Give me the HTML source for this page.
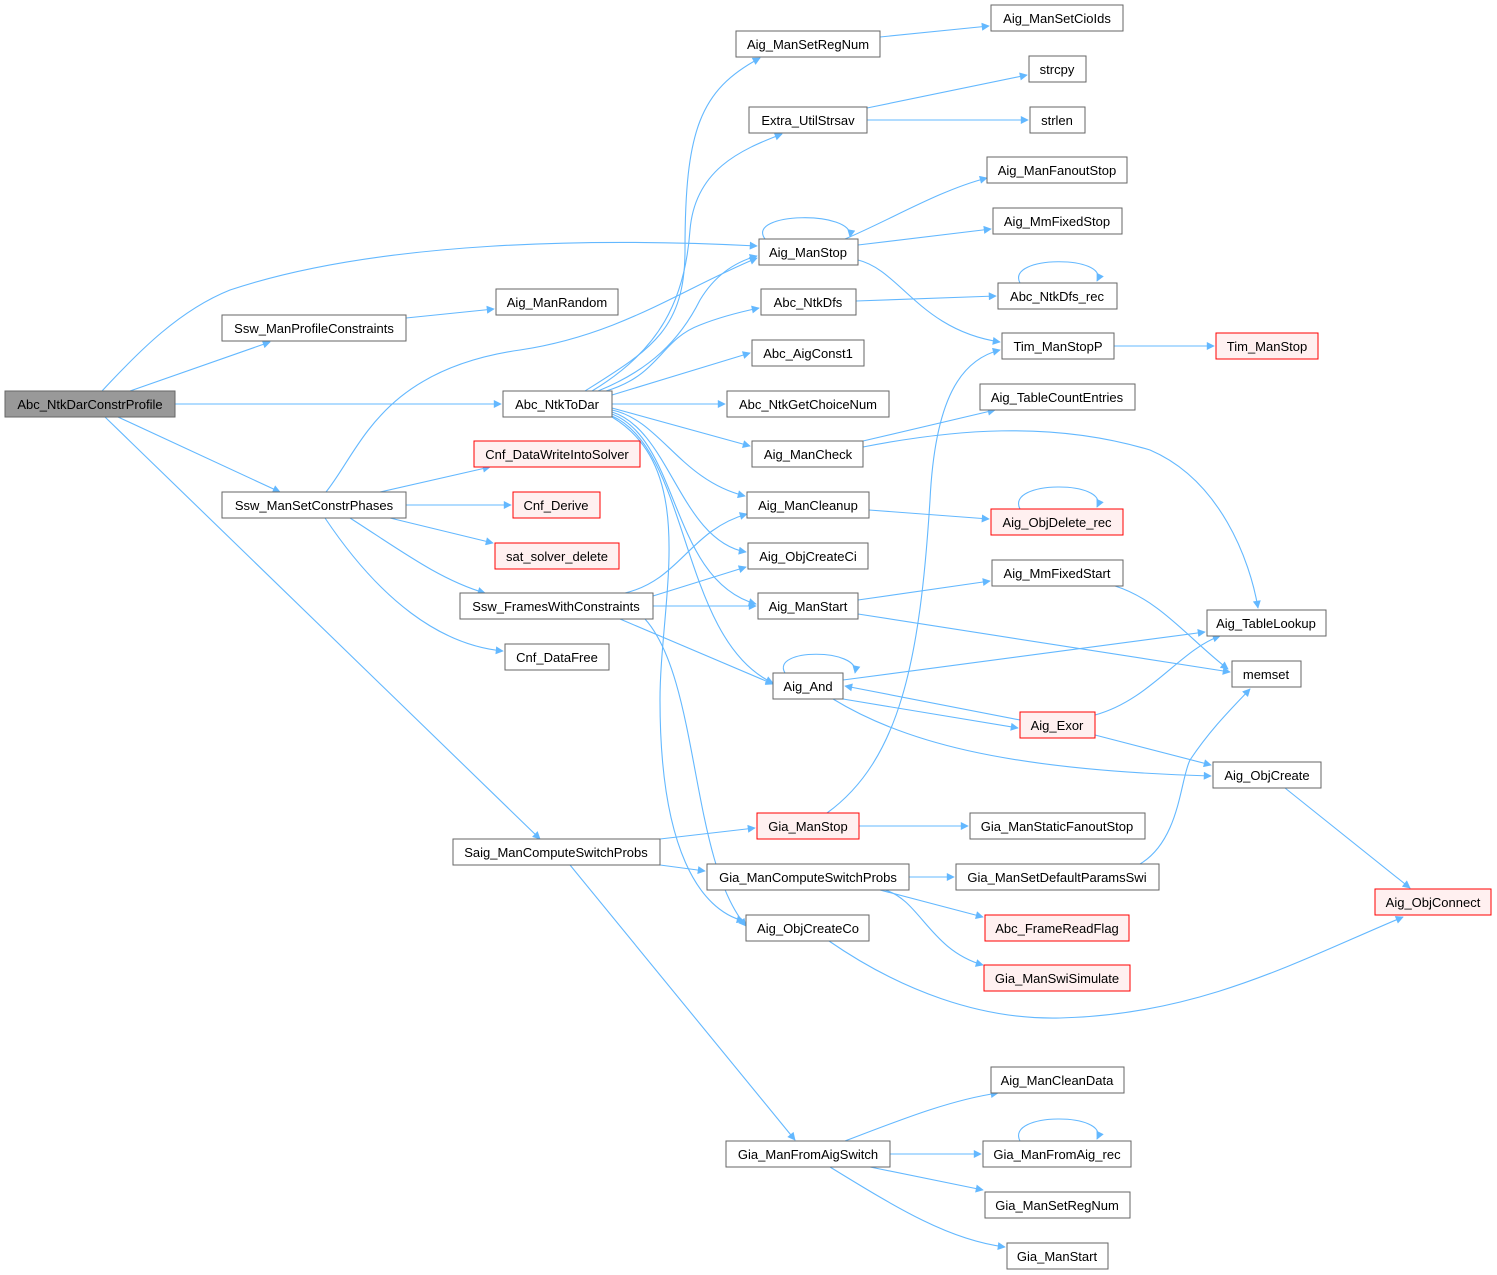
<!DOCTYPE html>
<html><head><meta charset="utf-8"><style>
html,body{margin:0;padding:0;background:#fff;}
svg{display:block;}
text{font-family:"Liberation Sans",Arial,sans-serif;font-size:13px;fill:#000;text-anchor:middle;}
.n{fill:#fff;stroke:#666;stroke-width:1;}
.r{fill:#fff0f0;stroke:#f00;stroke-width:1;}
.g{fill:#999;stroke:#666;stroke-width:1;}
path.e{fill:none;stroke:#63b8ff;stroke-width:1.1;marker-end:url(#a);}
</style></head><body>
<svg width="1497" height="1275" viewBox="0 0 1497 1275" xmlns="http://www.w3.org/2000/svg">
<defs><marker id="a" viewBox="0 0 10 10" refX="9" refY="5" markerWidth="10" markerHeight="8" orient="auto" markerUnits="userSpaceOnUse"><path d="M0,0 L10,5 L0,10 z" fill="#63b8ff"/></marker></defs>
<g>
<path class="e" d="M102,391 C140,350 180,310 230,290 C380,240 600,238 757,246"/>
<path class="e" d="M130,391 L270,342"/>
<path class="e" d="M175,404 L501,404"/>
<path class="e" d="M118,417 L280,492"/>
<path class="e" d="M105,417 L540,839"/>
<path class="e" d="M406,318 L494,309"/>
<path class="e" d="M326,492 C360,450 380,370 520,350 C620,335 680,290 757,258"/>
<path class="e" d="M380,492 L490,467"/>
<path class="e" d="M406,505 L511,505"/>
<path class="e" d="M390,518 L493,543"/>
<path class="e" d="M350,518 C400,550 440,580 485,593"/>
<path class="e" d="M325,518 C380,600 440,645 503,651"/>
<path class="e" d="M585,391 C650,350 685,330 685,250 C685,130 700,90 760,58"/>
<path class="e" d="M592,391 C660,350 685,300 690,230 C695,170 740,150 782,134"/>
<path class="e" d="M598,391 C650,370 680,340 700,300 C715,275 735,262 757,256"/>
<path class="e" d="M606,391 C660,375 660,340 700,325 C720,317 740,312 759,308"/>
<path class="e" d="M612,395 L750,353"/>
<path class="e" d="M612,404 L725,404"/>
<path class="e" d="M612,408 L750,446"/>
<path class="e" d="M612,410 C660,420 680,480 745,496"/>
<path class="e" d="M612,412 C670,430 680,540 746,552"/>
<path class="e" d="M612,414 C680,440 670,580 756,604"/>
<path class="e" d="M612,416 C690,450 680,640 773,683"/>
<path class="e" d="M612,417 C700,470 660,600 660,700 C660,850 700,910 744,921"/>
<path class="e" d="M660,839 L755,828"/>
<path class="e" d="M660,865 L705,871"/>
<path class="e" d="M570,865 L795,1140"/>
<path class="e" d="M625,593 C680,580 690,530 747,514"/>
<path class="e" d="M653,596 L746,567"/>
<path class="e" d="M653,606 L756,606"/>
<path class="e" d="M620,619 L773,684"/>
<path class="e" d="M645,619 C700,680 690,860 746,926"/>
<path class="e" d="M880,37 L989,26"/>
<path class="e" d="M867,108 L1027,75"/>
<path class="e" d="M867,120 L1028,120"/>
<path class="e" d="M765,239 C745,212 855,210 850,237"/>
<path class="e" d="M845,239 C890,220 940,190 987,178"/>
<path class="e" d="M858,245 L991,229"/>
<path class="e" d="M858,260 C900,270 920,330 1000,342"/>
<path class="e" d="M856,301 L996,296"/>
<path class="e" d="M1020,283 C1005,255 1110,255 1097,281"/>
<path class="e" d="M1114,346 L1214,346"/>
<path class="e" d="M863,441 L995,410"/>
<path class="e" d="M863,447 C950,430 1050,420 1150,450 C1220,480 1250,560 1258,608"/>
<path class="e" d="M869,510 L989,519"/>
<path class="e" d="M1020,509 C1005,480 1110,480 1097,507"/>
<path class="e" d="M858,600 L990,581"/>
<path class="e" d="M858,614 L1230,672"/>
<path class="e" d="M1115,586 C1160,600 1190,640 1228,669"/>
<path class="e" d="M785,673 C770,648 860,648 855,673"/>
<path class="e" d="M843,680 L1205,632"/>
<path class="e" d="M843,699 L1018,728"/>
<path class="e" d="M833,699 C900,740 1000,770 1211,776"/>
<path class="e" d="M1020,720 L845,686"/>
<path class="e" d="M1095,715 C1150,700 1180,650 1220,636"/>
<path class="e" d="M1095,735 L1211,765"/>
<path class="e" d="M1285,788 L1410,888"/>
<path class="e" d="M827,813 C900,760 920,660 930,500 C935,400 960,360 1000,350"/>
<path class="e" d="M859,826 L968,826"/>
<path class="e" d="M909,877 L954,877"/>
<path class="e" d="M880,890 L983,917"/>
<path class="e" d="M885,890 C920,900 930,950 983,965"/>
<path class="e" d="M1140,864 C1180,840 1180,780 1190,760 C1210,730 1230,710 1250,689"/>
<path class="e" d="M829,941 C900,990 980,1020 1060,1018 C1200,1015 1300,960 1403,917"/>
<path class="e" d="M845,1141 C900,1120 950,1100 998,1093"/>
<path class="e" d="M890,1154 L981,1154"/>
<path class="e" d="M1020,1141 C1005,1112 1110,1112 1097,1139"/>
<path class="e" d="M870,1167 L983,1190"/>
<path class="e" d="M830,1167 C900,1210 950,1240 1005,1247"/>
</g>
<g>
<rect class="g" x="5" y="391" width="170" height="26"/><text x="90" y="409">Abc_NtkDarConstrProfile</text>
<rect class="n" x="222" y="315" width="184" height="26"/><text x="314" y="333">Ssw_ManProfileConstraints</text>
<rect class="n" x="496" y="289" width="122" height="26"/><text x="557" y="307">Aig_ManRandom</text>
<rect class="n" x="222" y="492" width="184" height="26"/><text x="314" y="510">Ssw_ManSetConstrPhases</text>
<rect class="n" x="503" y="391" width="109" height="26"/><text x="557" y="409">Abc_NtkToDar</text>
<rect class="n" x="453" y="839" width="207" height="26"/><text x="556" y="857">Saig_ManComputeSwitchProbs</text>
<rect class="r" x="474" y="441" width="166" height="26"/><text x="557" y="459">Cnf_DataWriteIntoSolver</text>
<rect class="r" x="513" y="492" width="87" height="26"/><text x="556" y="510">Cnf_Derive</text>
<rect class="r" x="495" y="543" width="124" height="26"/><text x="557" y="561">sat_solver_delete</text>
<rect class="n" x="460" y="593" width="193" height="26"/><text x="556" y="611">Ssw_FramesWithConstraints</text>
<rect class="n" x="505" y="644" width="104" height="26"/><text x="557" y="662">Cnf_DataFree</text>
<rect class="n" x="736" y="31" width="144" height="26"/><text x="808" y="49">Aig_ManSetRegNum</text>
<rect class="n" x="749" y="107" width="118" height="26"/><text x="808" y="125">Extra_UtilStrsav</text>
<rect class="n" x="759" y="239" width="99" height="26"/><text x="808" y="257">Aig_ManStop</text>
<rect class="n" x="761" y="289" width="95" height="26"/><text x="808" y="307">Abc_NtkDfs</text>
<rect class="n" x="752" y="340" width="112" height="26"/><text x="808" y="358">Abc_AigConst1</text>
<rect class="n" x="727" y="391" width="162" height="26"/><text x="808" y="409">Abc_NtkGetChoiceNum</text>
<rect class="n" x="752" y="441" width="111" height="26"/><text x="808" y="459">Aig_ManCheck</text>
<rect class="n" x="747" y="492" width="122" height="26"/><text x="808" y="510">Aig_ManCleanup</text>
<rect class="n" x="748" y="543" width="120" height="26"/><text x="808" y="561">Aig_ObjCreateCi</text>
<rect class="n" x="758" y="593" width="100" height="26"/><text x="808" y="611">Aig_ManStart</text>
<rect class="n" x="773" y="673" width="70" height="26"/><text x="808" y="691">Aig_And</text>
<rect class="r" x="757" y="813" width="102" height="26"/><text x="808" y="831">Gia_ManStop</text>
<rect class="n" x="707" y="864" width="202" height="26"/><text x="808" y="882">Gia_ManComputeSwitchProbs</text>
<rect class="n" x="746" y="915" width="123" height="26"/><text x="808" y="933">Aig_ObjCreateCo</text>
<rect class="n" x="726" y="1141" width="164" height="26"/><text x="808" y="1159">Gia_ManFromAigSwitch</text>
<rect class="n" x="991" y="5" width="132" height="26"/><text x="1057" y="23">Aig_ManSetCioIds</text>
<rect class="n" x="1029" y="56" width="57" height="26"/><text x="1057" y="74">strcpy</text>
<rect class="n" x="1030" y="107" width="55" height="26"/><text x="1057" y="125">strlen</text>
<rect class="n" x="987" y="157" width="140" height="26"/><text x="1057" y="175">Aig_ManFanoutStop</text>
<rect class="n" x="993" y="208" width="129" height="26"/><text x="1057" y="226">Aig_MmFixedStop</text>
<rect class="n" x="998" y="283" width="119" height="26"/><text x="1057" y="301">Abc_NtkDfs_rec</text>
<rect class="n" x="1002" y="333" width="112" height="26"/><text x="1058" y="351">Tim_ManStopP</text>
<rect class="r" x="1216" y="333" width="102" height="26"/><text x="1267" y="351">Tim_ManStop</text>
<rect class="n" x="980" y="384" width="155" height="26"/><text x="1057" y="402">Aig_TableCountEntries</text>
<rect class="r" x="991" y="509" width="132" height="26"/><text x="1057" y="527">Aig_ObjDelete_rec</text>
<rect class="n" x="992" y="560" width="131" height="26"/><text x="1057" y="578">Aig_MmFixedStart</text>
<rect class="n" x="1207" y="610" width="119" height="26"/><text x="1266" y="628">Aig_TableLookup</text>
<rect class="n" x="1232" y="661" width="69" height="26"/><text x="1266" y="679">memset</text>
<rect class="r" x="1020" y="712" width="75" height="26"/><text x="1057" y="730">Aig_Exor</text>
<rect class="n" x="1213" y="762" width="108" height="26"/><text x="1267" y="780">Aig_ObjCreate</text>
<rect class="n" x="970" y="813" width="175" height="26"/><text x="1057" y="831">Gia_ManStaticFanoutStop</text>
<rect class="n" x="956" y="864" width="203" height="26"/><text x="1057" y="882">Gia_ManSetDefaultParamsSwi</text>
<rect class="r" x="1375" y="889" width="116" height="26"/><text x="1433" y="907">Aig_ObjConnect</text>
<rect class="r" x="985" y="915" width="144" height="26"/><text x="1057" y="933">Abc_FrameReadFlag</text>
<rect class="r" x="984" y="965" width="146" height="26"/><text x="1057" y="983">Gia_ManSwiSimulate</text>
<rect class="n" x="991" y="1067" width="133" height="26"/><text x="1057" y="1085">Aig_ManCleanData</text>
<rect class="n" x="983" y="1141" width="148" height="26"/><text x="1057" y="1159">Gia_ManFromAig_rec</text>
<rect class="n" x="985" y="1192" width="145" height="26"/><text x="1057" y="1210">Gia_ManSetRegNum</text>
<rect class="n" x="1007" y="1243" width="101" height="26"/><text x="1057" y="1261">Gia_ManStart</text>
</g>
</svg>
</body></html>
